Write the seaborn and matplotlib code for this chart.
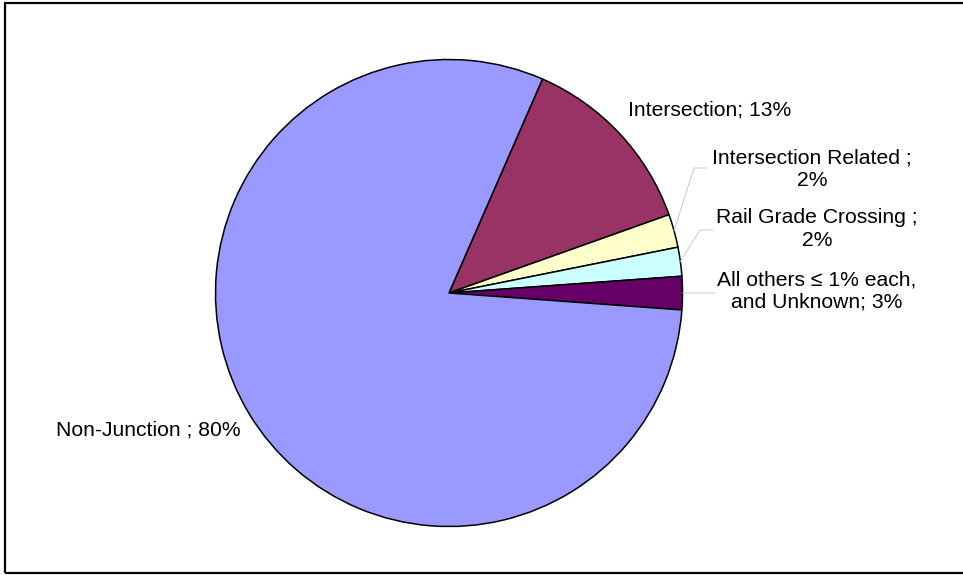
import numpy as np
import matplotlib
matplotlib.use("Agg")
import matplotlib.pyplot as plt
import seaborn as sns
from matplotlib.patches import Rectangle

# Slice data (clockwise from the top-right)
categories = ["Intersection", "Intersection Related", "Rail Grade Crossing",
              "All others", "Non-Junction"]
shares = [13.0, 2.3, 2.0, 2.3, 80.4]
label_texts = ["Intersection; 13%", "Intersection Related ;\n2%",
               "Rail Grade Crossing ;\n2%", "All others \u2264 1% each,\nand Unknown; 3%",
               "Non-Junction ; 80%"]
slice_colors = ["#993366", "#FFFFCC", "#CCFFFF", "#660066", "#9999FF"]

sns.set_theme(style="white")
plt.rcParams["font.family"] = ["Liberation Sans", "DejaVu Sans"]

W, H = 963, 575
fig = plt.figure(figsize=(W / 100, H / 100), dpi=100)

# pie centre / radius in pixels
cx, cy, r = 449, 293, 233.5
ax = fig.add_axes([(cx - r) / W, (H - cy - r) / H, 2 * r / W, 2 * r / H])

wedges, _ = ax.pie(shares, colors=slice_colors, startangle=66.4, counterclock=False,
                   wedgeprops=dict(edgecolor="black", linewidth=1.1))
ax.set_xlim(-1, 1)
ax.set_ylim(-1, 1)
ax.axis("off")


def px(x, y):
    return (x - cx) / r, (cy - y) / r


fs = 15.2
# label positions (pixels), alignment
label_pos = [((628, 110), "left"), ((812, 169), "center"), ((817, 229), "center"),
             ((817, 291), "center"), ((56, 430), "left")]
for txt, ((lx, ly), ha) in zip(label_texts, label_pos):
    x, y = px(lx, ly)
    ax.text(x, y, txt, ha=ha, va="center", multialignment="center",
            fontsize=fs, color="black", linespacing=1.22)

# leader lines for the thin slices
elbows = [None, (694, 168, 707), (700, 230, 713), (683, 293, 715), None]
for w, e in zip(wedges, elbows):
    if e is None:
        continue
    mid = np.deg2rad((w.theta1 + w.theta2) / 2)
    sx, sy = np.cos(mid), np.sin(mid)
    ex, ey = px(e[0], e[1])
    hx, _ = px(e[2], e[1])
    ax.plot([sx, ex, hx], [sy, ey, ey], color="#c8c8c8", lw=0.7, clip_on=False)

# chart frame (right edge cut off in the original)
fig.patches.append(Rectangle((5 / W, 2 / H), 1.02, 570 / H, transform=fig.transFigure,
                             fill=False, edgecolor="black", linewidth=1.6))

fig.savefig("out.png", dpi=100, facecolor="white")
